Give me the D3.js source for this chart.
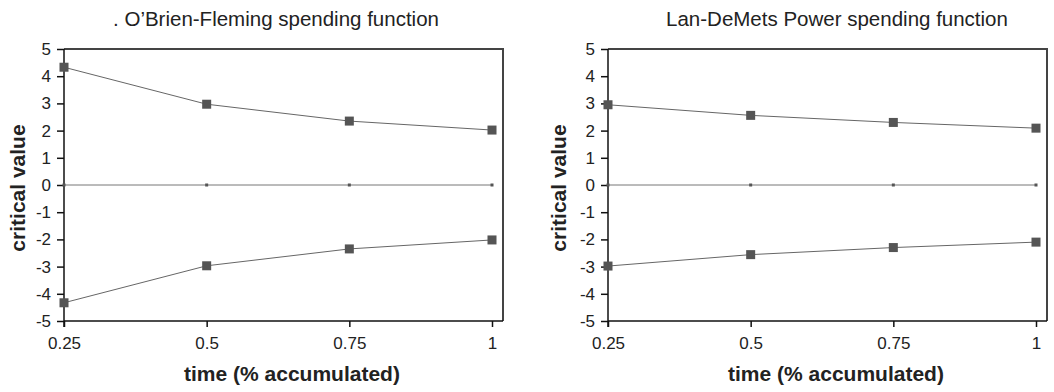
<!DOCTYPE html>
<html>
<head>
<meta charset="utf-8">
<script src="https://cdn.jsdelivr.net/npm/d3@7"></script>
<style>
    body { margin: 0; background: #fff; }
    svg { display: block; font-family: 'Liberation Sans', Arial, sans-serif; }
</style>
</head>
<body>
<div id="chart"></div>
<script>
var times = [0.25, 0.5, 0.75, 1];
var yTicks = [5, 4, 3, 2, 1, 0, -1, -2, -3, -4, -5];
var xTickLabels = ['0.25', '0.5', '0.75', '1'];

// O'Brien-Fleming boundaries
var obfUpper = [4.33, 2.97, 2.35, 2.02];
var obfLower = [-4.33, -2.97, -2.35, -2.02];
// Lan-DeMets power boundaries
var powUpper = [2.95, 2.56, 2.30, 2.09];
var powLower = [-2.98, -2.56, -2.30, -2.10];
var zeroLine = [0, 0, 0, 0];

var titles = ['. O\u2019Brien-Fleming spending function', 'Lan-DeMets Power spending function'];

var svg = d3.select('#chart')
    .append('svg')
    .attr('width', 1054)
    .attr('height', 392);

var panels = [
    { left: 64, title: titles[0], titleX: 276, labelX: 25, series: [obfUpper, zeroLine, obfLower] },
    { left: 608, title: titles[1], titleX: 837, labelX: 566, series: [powUpper, zeroLine, powLower] }
];

var boxW = 439, plotTop = 49, plotH = 272;

panels.forEach(function(p) {
    var g = svg.append('g').attr('transform', 'translate(' + p.left + ',' + plotTop + ')');

    var x = d3.scaleLinear().domain([0.25, 1]).range([0, 428]);
    var y = d3.scaleLinear().domain([-5, 5]).range([plotH, 0]);

    // frame: top and right
    g.append('path')
        .attr('d', 'M0,0H' + boxW + 'V' + plotH)
        .attr('fill', 'none')
        .attr('stroke', '#444')
        .attr('stroke-width', 2);

    var yAxis = g.append('g')
        .call(d3.axisLeft(y).tickValues(yTicks).tickSize(7).tickPadding(6)
            .tickFormat(function(d) { return d < 0 ? '-' + Math.abs(d) : d; }));
    var xAxis = g.append('g')
        .attr('transform', 'translate(0,' + plotH + ')')
        .call(d3.axisBottom(x).tickValues(times).tickSize(6).tickPadding(10)
            .tickFormat(function(d, i) { return xTickLabels[i]; }));

    yAxis.select('.domain').attr('d', 'M0,' + (plotH + 6) + 'V0');
    xAxis.select('.domain').attr('d', 'M0,0H' + boxW);

    [xAxis, yAxis].forEach(function(a) {
        a.attr('font-size', 17).attr('font-family', "'Liberation Sans', Arial, sans-serif");
        a.selectAll('path, line').attr('stroke', '#111').attr('stroke-width', 1.5);
        a.selectAll('text').attr('fill', '#222');
    });

    var line = d3.line()
        .x(function(d, i) { return x(times[i]); })
        .y(function(d) { return y(d); });

    p.series.forEach(function(s, si) {
        var isZero = si === 1;
        g.append('path')
            .datum(s)
            .attr('d', line)
            .attr('fill', 'none')
            .attr('stroke', isZero ? '#777' : '#666')
            .attr('stroke-width', 1);

        var sz = isZero ? 3 : 9;
        g.selectAll('.mk' + si)
            .data(s)
            .enter()
            .append('rect')
            .attr('class', 'mk' + si)
            .attr('x', function(d, i) { return x(times[i]) - sz / 2; })
            .attr('y', function(d) { return y(d) - sz / 2; })
            .attr('width', sz)
            .attr('height', sz)
            .attr('fill', '#555');
    });

    svg.append('text')
        .attr('x', p.titleX)
        .attr('y', 26)
        .attr('text-anchor', 'middle')
        .attr('font-size', 20.5)
        .attr('fill', '#222')
        .text(p.title);

    svg.append('text')
        .attr('x', p.left + 228)
        .attr('y', 381)
        .attr('text-anchor', 'middle')
        .attr('font-size', 21)
        .attr('font-weight', 'bold')
        .attr('fill', '#222')
        .text('time (% accumulated)');

    svg.append('text')
        .attr('transform', 'translate(' + p.labelX + ',' + (plotTop + 139) + ') rotate(-90)')
        .attr('text-anchor', 'middle')
        .attr('font-size', 21)
        .attr('font-weight', 'bold')
        .attr('fill', '#222')
        .text('critical value');
});
</script>
</body>
</html>
